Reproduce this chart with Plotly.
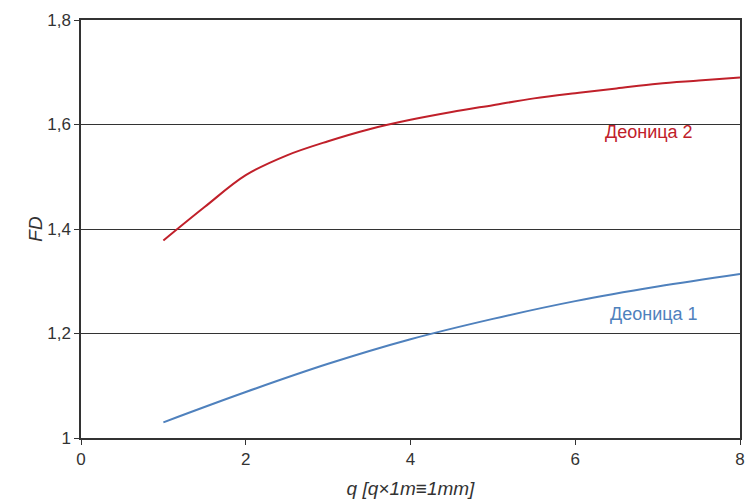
import plotly.graph_objects as go

q_red = [1, 1.5, 2, 2.5, 3, 3.5, 4, 4.5, 5, 5.5, 6, 6.5, 7, 7.5, 8]
fd_red = [1.378, 1.442, 1.503, 1.541, 1.568, 1.591, 1.609, 1.624, 1.637, 1.650, 1.660, 1.669, 1.678, 1.684, 1.690]

q_blue = [1, 2, 3, 4, 5, 6, 7, 8]
fd_blue = [1.030, 1.088, 1.142, 1.189, 1.228, 1.262, 1.290, 1.314]

red = "#C0202A"
blue = "#4F81BD"
font = "Liberation Sans, Arial, sans-serif"

fig = go.Figure()
fig.add_trace(go.Scatter(x=q_blue, y=fd_blue, mode="lines", line=dict(color=blue, width=2, shape="spline"), name="Деоница 1"))
fig.add_trace(go.Scatter(x=q_red, y=fd_red, mode="lines", line=dict(color=red, width=2, shape="spline"), name="Деоница 2"))

fig.add_annotation(x=6.9, y=1.586, text="Деоница 2", showarrow=False, font=dict(family=font, size=18, color=red))
fig.add_annotation(x=6.95, y=1.238, text="Деоница 1", showarrow=False, font=dict(family=font, size=18, color=blue))

fig.update_layout(
    width=748, height=501,
    margin=dict(l=81, r=8, t=20, b=63),
    paper_bgcolor="white", plot_bgcolor="white",
    showlegend=False,
    separators=",.",
    font=dict(family=font, size=17, color="#333333"),
    xaxis=dict(range=[0, 8], tickvals=[0, 2, 4, 6, 8], showgrid=False, zeroline=False,
               showline=True, linecolor="#333333", linewidth=1.5, mirror=True,
               ticks="outside", ticklen=5, tickcolor="#333333", automargin=False,
               title=dict(text="<i>q [q×1m≡1mm]</i>", font=dict(size=19), standoff=14)),
    yaxis=dict(range=[1, 1.8], tickvals=[1, 1.2, 1.4, 1.6, 1.8], showgrid=True, gridcolor="#333333", gridwidth=1.3,
               zeroline=False, showline=True, linecolor="#333333", linewidth=1.5, mirror=True,
               ticks="outside", ticklen=5, tickcolor="#333333", automargin=False,
               title=dict(text="<i>FD</i>", font=dict(size=19), standoff=0)),
)

fig.write_html("out.html", config={"displayModeBar": False},
               post_script="document.body.style.margin='0';document.body.style.overflow='hidden';")
